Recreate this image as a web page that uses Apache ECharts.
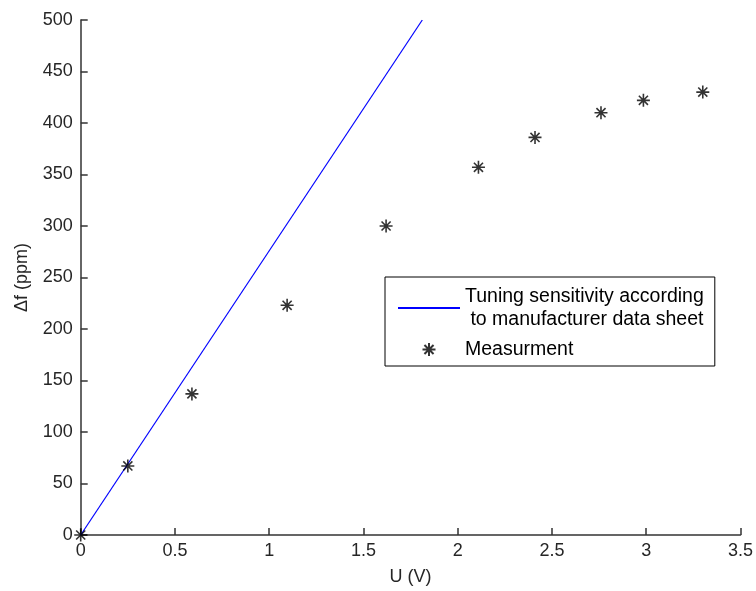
<!DOCTYPE html>
<html>
<head>
<meta charset="utf-8">
<script src="https://cdn.jsdelivr.net/npm/echarts@6/dist/echarts.min.js"></script>
<style>
  html, body { margin: 0; padding: 0; background: #fff; }
  #chart { width: 756px; height: 591px; }
</style>
</head>
<body>
<div id="chart"></div>
<script>
// Tuning sensitivity from the manufacturer data sheet (straight line, V -> ppm)
const sheetU = [0, 1.812];
const sheetDf = [0, 500];

// Measured frequency deviation versus tuning voltage
const measU = [0, 0.25, 0.59, 1.095, 1.62, 2.11, 2.41, 2.76, 2.985, 3.30];
const measDf = [0, 67, 137, 223, 300, 357, 386, 410, 422, 430];

// Axis ticks
const xTicks = { min: 0, max: 3.5, step: 0.5 };
const yTicks = { min: 0, max: 500, step: 50 };

const lineName = 'Tuning sensitivity according\n to manufacturer data sheet';
const measName = 'Measurment';

// Asterisk marker: plus sign overlaid with a cross
const starPath = 'path://M0,-6L0,6M-6,0L6,0M-4.2,-4.2L4.2,4.2M-4.2,4.2L4.2,-4.2';

const fontFamily = '"Liberation Sans", Arial, Helvetica, sans-serif';
const textColor = '#262626';
const axisColor = '#333333';
const fs = 18;

const chart = echarts.init(document.getElementById('chart'), null, { renderer: 'canvas' });

chart.setOption({
  animation: false,
  backgroundColor: '#ffffff',
  textStyle: { fontFamily: fontFamily, color: textColor },
  grid: { left: 80.7, right: 15, top: 20, bottom: 52.7, containLabel: false },
  xAxis: {
    type: 'value',
    min: xTicks.min, max: xTicks.max, interval: xTicks.step,
    name: 'U (V)', nameLocation: 'middle', nameGap: 33,
    nameTextStyle: { fontSize: fs, color: textColor, fontFamily: fontFamily },
    axisLine: { show: true, onZero: false, lineStyle: { color: axisColor, width: 1.5 } },
    axisTick: { show: true, inside: true, length: 7, lineStyle: { color: axisColor, width: 1.5 } },
    axisLabel: { fontSize: fs, color: textColor, margin: 7, fontFamily: fontFamily },
    splitLine: { show: false }
  },
  yAxis: {
    type: 'value',
    min: yTicks.min, max: yTicks.max, interval: yTicks.step,
    name: 'Δf (ppm)', nameLocation: 'middle', nameGap: 50, nameRotate: 90,
    nameTextStyle: { fontSize: fs, color: textColor, fontFamily: fontFamily },
    axisLine: { show: true, onZero: false, lineStyle: { color: axisColor, width: 1.5 } },
    axisTick: { show: true, inside: true, length: 7, lineStyle: { color: axisColor, width: 1.5 } },
    axisLabel: { fontSize: fs, color: textColor, margin: 8, fontFamily: fontFamily },
    splitLine: { show: false }
  },
  legend: {
    show: true,
    orient: 'vertical',
    left: 385, top: 277,
    padding: [8, 11, 5, 12],
    itemWidth: 62, itemHeight: 13, itemGap: 7,
    backgroundColor: '#ffffff',
    borderColor: '#000000', borderWidth: 1, borderRadius: 0,
    textStyle: { fontSize: 19.5, color: '#000000', lineHeight: 23, fontFamily: fontFamily },
    data: [
      { name: lineName, itemStyle: { opacity: 0 } },
      { name: measName }
    ]
  },
  series: [
    {
      name: lineName,
      type: 'line',
      data: sheetU.map((u, i) => [u, sheetDf[i]]),
      showSymbol: false,
      symbol: 'none',
      lineStyle: { color: '#0000ff', width: 1.2 },
      itemStyle: { color: '#0000ff' },
      z: 2
    },
    {
      name: measName,
      type: 'scatter',
      data: measU.map((u, i) => [u, measDf[i]]),
      symbol: starPath,
      symbolSize: 13,
      symbolKeepAspect: true,
      itemStyle: { color: '#000000', borderColor: '#000000', borderWidth: 1.6 },
      z: 3
    }
  ]
});
</script>
</body>
</html>
